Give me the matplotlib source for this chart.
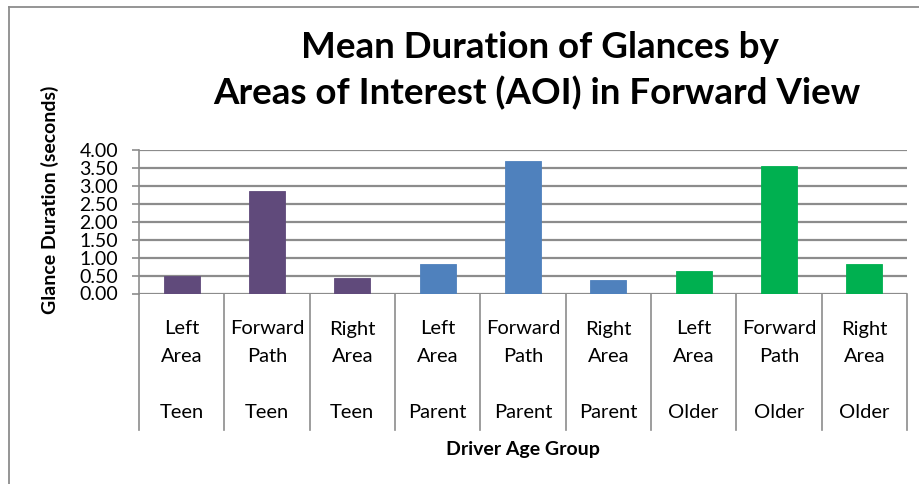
import matplotlib
matplotlib.use('Agg')
import matplotlib.pyplot as plt

plt.rcParams['font.family'] = ['Lato', 'DejaVu Sans']

# data
areas = ['Left\nArea', 'Forward\nPath', 'Right\nArea',
         'Left\nArea', 'Forward\nPath', 'Right\nArea',
         'Left\nArea', 'Forward\nPath', 'Right\nArea']
groups = ['Teen', 'Teen', 'Teen', 'Parent', 'Parent', 'Parent', 'Older', 'Older', 'Older']
durations = [0.49, 2.86, 0.44, 0.81, 3.70, 0.39, 0.62, 3.56, 0.82]
group_colors = {'Teen': '#604A7B', 'Parent': '#4F81BD', 'Older': '#00B050'}
yticks = [0.0, 0.5, 1.0, 1.5, 2.0, 2.5, 3.0, 3.5, 4.0]

W, H = 920, 484
fig = plt.figure(figsize=(W / 100, H / 100), dpi=100)
fig.patch.set_facecolor('white')

# outer chart border (left + top visible)
fig.add_artist(plt.Line2D([9 / W, 9 / W], [0, 1 - 7 / H], color='#8c8c8c', lw=1.3))
fig.add_artist(plt.Line2D([9 / W, 1], [1 - 7 / H, 1 - 7 / H], color='#8c8c8c', lw=1.3))

x0, x1 = 139, 907
y0, y1 = 293.5, 150
ax = fig.add_axes([x0 / W, 1 - y0 / H, (x1 - x0) / W, (y0 - y1) / H])

grid_c = '#8c8c8c'
n = len(durations)
xs = list(range(n))
ax.bar(xs, durations, width=0.42, color=[group_colors[g] for g in groups],
       edgecolor=[group_colors[g] for g in groups], linewidth=0.6, zorder=3)

ax.set_xlim(-0.5, n - 0.5)
ax.set_ylim(0, 4.0)
ax.set_yticks(yticks)
ax.set_yticklabels([f'{v:.2f}' for v in yticks], fontsize=14)
ax.tick_params(axis='y', length=5, width=1.2, color=grid_c, pad=10)
ax.yaxis.grid(True, color=grid_c, lw=1.6, zorder=0)
ax.set_axisbelow(True)
ax.set_xticks([])
for s in ['top', 'right', 'bottom']:
    ax.spines[s].set_visible(False)
ax.spines['left'].set_color(grid_c)
ax.spines['left'].set_linewidth(1.2)

# category separators extending below axis
for k in range(n + 1):
    ax.plot([k - 0.5, k - 0.5], [0, -(430 - y0) / (y0 - y1) * 4.0], color=grid_c,
            lw=1.2, clip_on=False, zorder=2)

# multi-level category labels
for i in range(n):
    top, bot = areas[i].split('\n')
    for txt, ypix in [(top, 329), (bot, 357), (groups[i], 412)]:
        ax.annotate(txt, xy=(i, 0), xycoords='data', xytext=(0, -(ypix - y0) * 0.72),
                    textcoords='offset points', ha='center', va='center', fontsize=14.5)

fig.text(523 / W, 1 - 450 / H, 'Driver Age Group', ha='center', va='center',
         fontsize=14, fontweight='bold')
fig.text(50 / W, 1 - 200 / H, 'Glance Duration (seconds)', ha='center', va='center',
         rotation=90, fontsize=14, fontweight='bold')

fig.text(540 / W, 1 - 47 / H, 'Mean Duration of Glances by', ha='center', va='center',
         fontsize=26.5, fontweight='bold')
fig.text(537 / W, 1 - 93 / H, 'Areas of Interest (AOI) in Forward View', ha='center',
         va='center', fontsize=26.5, fontweight='bold')

fig.savefig('out.png', dpi=100)
